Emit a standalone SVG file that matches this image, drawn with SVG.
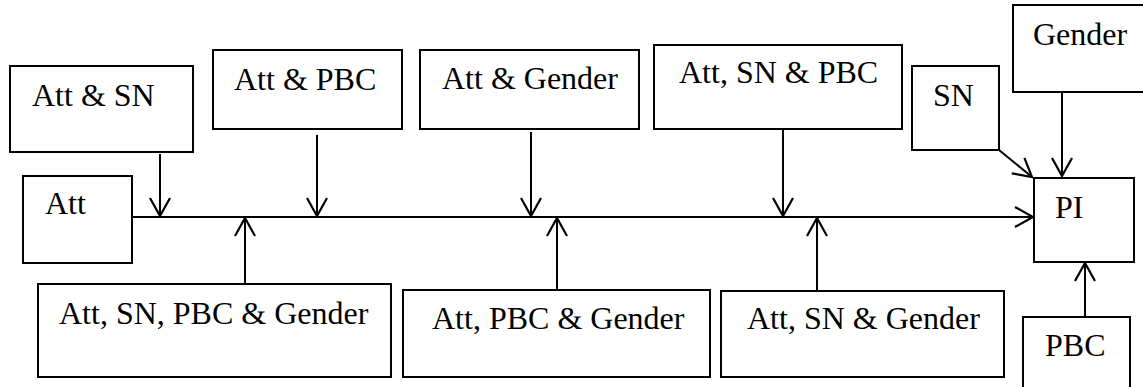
<svg xmlns="http://www.w3.org/2000/svg" width="1143" height="387" viewBox="0 0 1143 387">
  <style>
    .box { fill: #ffffff; stroke: #000000; stroke-width: 2; }
    .lbl { font-family: "Liberation Serif", "Times New Roman", serif; font-size: 32px; fill: #000000; }
    .wire { fill: none; stroke: #000000; stroke-width: 2; }
  </style>
  <defs>
    <marker id="open-arrow" markerUnits="userSpaceOnUse" markerWidth="26" markerHeight="26" viewBox="-22 -13 26 26" refX="0" refY="0" orient="auto">
      <path d="M-18,-10 L0,0 L-18,10" fill="none" stroke="#000000" stroke-width="2.2"/>
    </marker>
  </defs>

  <!-- Top row of combined predictors -->
  <g id="att-sn">
    <rect class="box" x="10" y="66" width="183" height="86"/>
    <text class="lbl" x="32" y="106">Att &amp; SN</text>
  </g>
  <g id="att-pbc">
    <rect class="box" x="213" y="50" width="189" height="79"/>
    <text class="lbl" x="234" y="90">Att &amp; PBC</text>
  </g>
  <g id="att-gender">
    <rect class="box" x="420" y="50" width="219" height="79"/>
    <text class="lbl" x="442" y="89">Att &amp; Gender</text>
  </g>
  <g id="att-sn-pbc">
    <rect class="box" x="654" y="45" width="248" height="84"/>
    <text class="lbl" x="679" y="83">Att, SN &amp; PBC</text>
  </g>
  <g id="sn">
    <rect class="box" x="912" y="66" width="87" height="84"/>
    <text class="lbl" x="933" y="106">SN</text>
  </g>
  <g id="gender">
    <rect class="box" x="1013" y="5" width="140" height="87"/>
    <text class="lbl" x="1033" y="45">Gender</text>
  </g>

  <!-- Source and outcome -->
  <g id="att">
    <rect class="box" x="23" y="176" width="109" height="87"/>
    <text class="lbl" x="45" y="214">Att</text>
  </g>
  <g id="pi">
    <rect class="box" x="1034" y="178" width="100" height="84"/>
    <text class="lbl" x="1055" y="218">PI</text>
  </g>

  <!-- Bottom row of combined predictors -->
  <g id="att-sn-pbc-gender">
    <rect class="box" x="38" y="284" width="353" height="93"/>
    <text class="lbl" x="59" y="324">Att, SN, PBC &amp; Gender</text>
  </g>
  <g id="att-pbc-gender">
    <rect class="box" x="403" y="290" width="307" height="87"/>
    <text class="lbl" x="432" y="329">Att, PBC &amp; Gender</text>
  </g>
  <g id="att-sn-gender">
    <rect class="box" x="721" y="291" width="283" height="86"/>
    <text class="lbl" x="747" y="329">Att, SN &amp; Gender</text>
  </g>
  <g id="pbc">
    <rect class="box" x="1023" y="317" width="107" height="80"/>
    <text class="lbl" x="1045" y="356">PBC</text>
  </g>

  <!-- Connectors -->
  <g id="connectors" class="wire">
    <line x1="132" y1="217" x2="1033" y2="217" marker-end="url(#open-arrow)"/>
    <line x1="160" y1="154" x2="160" y2="216" marker-end="url(#open-arrow)"/>
    <line x1="317" y1="135" x2="317" y2="216" marker-end="url(#open-arrow)"/>
    <line x1="531" y1="132" x2="531" y2="216" marker-end="url(#open-arrow)"/>
    <line x1="783" y1="129" x2="783" y2="216" marker-end="url(#open-arrow)"/>
    <line x1="245" y1="284" x2="245" y2="218" marker-end="url(#open-arrow)"/>
    <line x1="557" y1="290" x2="557" y2="218" marker-end="url(#open-arrow)"/>
    <line x1="817" y1="291" x2="817" y2="218" marker-end="url(#open-arrow)"/>
    <line x1="999" y1="150" x2="1032" y2="177" marker-end="url(#open-arrow)"/>
    <line x1="1062" y1="92" x2="1062" y2="176" marker-end="url(#open-arrow)"/>
    <line x1="1085" y1="317" x2="1085" y2="263" marker-end="url(#open-arrow)"/>
  </g>
</svg>
